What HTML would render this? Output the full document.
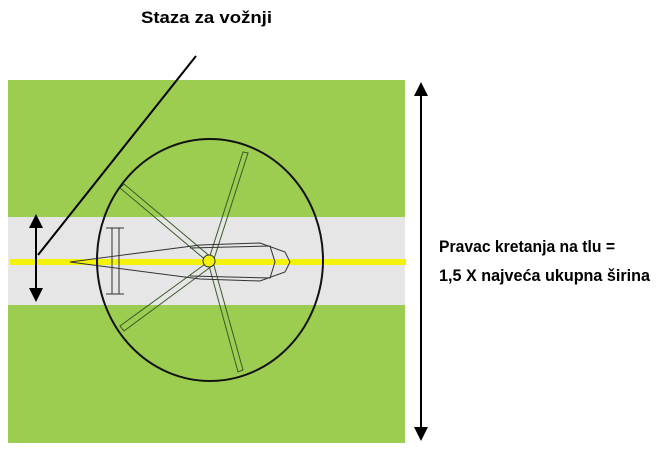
<!DOCTYPE html>
<html><head><meta charset="utf-8"><style>
html,body{margin:0;padding:0;background:#fff;width:666px;height:451px;overflow:hidden}
svg{display:block}
text{font-family:"Liberation Sans",sans-serif;font-weight:bold;fill:#000}
</style></head><body>
<svg width="666" height="451" viewBox="0 0 666 451">
<defs>
<marker id="ah" markerWidth="14" markerHeight="14" refX="2" refY="7" orient="auto-start-reverse" markerUnits="userSpaceOnUse" viewBox="0 0 14 14"><path d="M0,0 L14,7 L0,14 z" fill="#000"/></marker>
</defs>
<rect x="8" y="80" width="397" height="363" fill="#9ccc50"/>
<rect x="8" y="217" width="397" height="88" fill="#e6e6e6"/>
<line x1="10" y1="262" x2="406" y2="262" stroke="#f2f20a" stroke-width="6"/>
<g stroke="#3a5a2a" stroke-width="1" fill="none">
<polygon points="208,262 243,152 248,153 213,262"/>
<polygon points="208,262 120,188 124,184 212,258"/>
<polygon points="208,262 120,326 124,331 212,266"/>
<polygon points="208,262 238,372 243,370 213,262"/>
</g>
<g stroke="#333" stroke-width="1" fill="none">
<path d="M70,262 L200,245 L260,243 L285,252 L290,262 L285,272 L260,281 L200,279 Z"/>
<path d="M190,248 L270,246 L275,262 L270,278 L190,276"/>
<line x1="112" y1="228" x2="112" y2="294"/>
<line x1="119" y1="228" x2="119" y2="294"/>
<line x1="106" y1="228" x2="124" y2="228"/>
<line x1="106" y1="294" x2="124" y2="294"/>
</g>
<circle cx="209" cy="261" r="6" fill="#f2f20a" stroke="#333"/>
<ellipse cx="210" cy="260" rx="113" ry="121" fill="none" stroke="#111" stroke-width="2"/>
<line x1="36" y1="226" x2="36" y2="290" stroke="#000" stroke-width="2" marker-start="url(#ah)" marker-end="url(#ah)"/>
<line x1="38" y1="255" x2="196" y2="56" stroke="#000" stroke-width="2"/>
<line x1="421" y1="94" x2="421" y2="429" stroke="#000" stroke-width="2" marker-start="url(#ah)" marker-end="url(#ah)"/>
<text x="141" y="23" font-size="17" textLength="131" lengthAdjust="spacingAndGlyphs">Staza za vožnji</text>
<text x="439" y="252" font-size="17" textLength="176" lengthAdjust="spacingAndGlyphs">Pravac kretanja na tlu =</text>
<text x="439" y="281" font-size="17" textLength="211" lengthAdjust="spacingAndGlyphs">1,5 X najveća ukupna širina</text>
</svg>
</body></html>
